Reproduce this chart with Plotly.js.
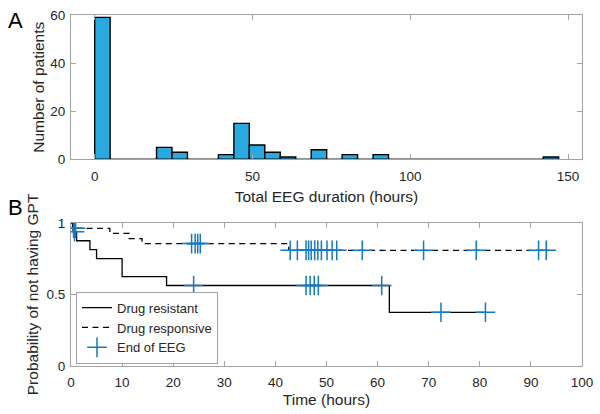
<!DOCTYPE html>
<html>
<head>
<meta charset="utf-8">
<script src="https://cdn.plot.ly/plotly-3.0.1.min.js"></script>
<style>
  html, body { margin: 0; padding: 0; background: #ffffff; }
  #chart { width: 600px; height: 414px; }
</style>
</head>
<body>
<div id="chart"></div>
<script>
// ---------- Panel A: histogram of total EEG duration ----------
const binStart = 0;          // hours
const binWidth = 4.9;        // hours
const patientCounts = [59, 0, 0, 0, 5, 3, 0, 0, 2, 15, 6, 3, 1, 0, 4, 0, 2, 0, 2, 0,
                       0, 0, 0, 0, 0, 0, 0, 0, 0, 1];
const histTicks = [0, 50, 100, 150];
const countTicks = [0, 20, 40, 60];

// ---------- Panel B: Kaplan-Meier curves ----------
const resistantTime = [0, 0.4, 1.1, 3.7, 5.0, 10.0, 18.7, 62.3, 81.1];
const resistantSurv = [1, 0.9375, 0.875, 0.8125, 0.75, 0.625, 0.5625, 0.375, 0.375];
const responsiveTime = [0, 0.3, 7.6, 11.4, 13.9, 42.6, 93.0];
const responsiveSurv = [1, 0.962, 0.926, 0.89, 0.855, 0.808, 0.808];

const responsiveCensorTime = [0.5, 0.9, 23.6, 24.3, 24.8, 25.3, 42.9, 44.3, 46.0, 46.5, 47.0,
                              47.7, 48.3, 49.0, 50.1, 51.1, 52.0, 57.0, 69.0, 79.3, 91.5, 93.0];
const responsiveCensorSurv = [0.962, 0.962, 0.855, 0.855, 0.855, 0.855, 0.808, 0.808, 0.808,
                              0.808, 0.808, 0.808, 0.808, 0.808, 0.808, 0.808, 0.808, 0.808,
                              0.808, 0.808, 0.808, 0.808];
const resistantCensorTime = [0.7, 24.0, 46.0, 46.8, 47.6, 48.4, 60.8, 72.4, 81.1];
const resistantCensorSurv = [0.9375, 0.5625, 0.5625, 0.5625, 0.5625, 0.5625, 0.5625, 0.375, 0.375];
const timeTicks = [0, 10, 20, 30, 40, 50, 60, 70, 80, 90, 100];
const probTicks = [0, 0.5, 1];
const probTickText = ['0', '0.5', '1'];

// ---------- build traces ----------
const binCenters = patientCounts.map((_, i) => binStart + binWidth * (i + 0.5));
const binEnd = binStart + binWidth * patientCounts.length;

const FONT = 'Liberation Sans, Arial, Helvetica, sans-serif';
const TXT = '#262626';
const AXC = '#a3a3a3';
const BLUE = '#1179c6';

const traces = [
  {
    type: 'bar', x: binCenters, y: patientCounts, width: binWidth,
    xaxis: 'x', yaxis: 'y', showlegend: false, hoverinfo: 'x+y',
    marker: { color: '#2aa9df', line: { color: '#000000', width: 1.4 } }
  },
  {
    type: 'scatter', mode: 'lines', x: [binStart, binEnd], y: [0, 0],
    xaxis: 'x', yaxis: 'y', showlegend: false, hoverinfo: 'skip',
    line: { color: '#000000', width: 1.4 }
  },
  {
    type: 'scatter', mode: 'lines', name: 'Drug resistant',
    x: resistantTime, y: resistantSurv, xaxis: 'x2', yaxis: 'y2',
    line: { color: '#000000', width: 1.3, shape: 'hv' }
  },
  {
    type: 'scatter', mode: 'lines', name: 'Drug responsive',
    x: responsiveTime, y: responsiveSurv, xaxis: 'x2', yaxis: 'y2',
    line: { color: '#000000', width: 1.3, shape: 'hv', dash: '6px,4.5px' }
  },
  {
    type: 'scatter', mode: 'markers', name: 'End of EEG',
    x: responsiveCensorTime.concat(resistantCensorTime),
    y: responsiveCensorSurv.concat(resistantCensorSurv),
    xaxis: 'x2', yaxis: 'y2',
    marker: { symbol: 'cross-thin-open', size: 14, color: BLUE, line: { color: BLUE, width: 1.5 } }
  }
];

const axisBase = {
  showline: true, mirror: 'ticks', linecolor: AXC, linewidth: 1,
  ticks: 'inside', ticklen: 5, tickwidth: 1, tickcolor: AXC,
  showgrid: false, zeroline: false,
  tickfont: { family: FONT, size: 13.5, color: TXT },
  automargin: false
};

const layout = {
  width: 600, height: 414,
  margin: { l: 71, r: 18.3, t: 15, b: 48.3 },
  paper_bgcolor: '#ffffff', plot_bgcolor: '#ffffff',
  font: { family: FONT, color: TXT },
  showlegend: true,
  xaxis: Object.assign({}, axisBase, {
    domain: [0, 1], anchor: 'y', range: [-7.5, 154.4],
    tickvals: histTicks, ticklabelstandoff: 4,
    title: { text: 'Total EEG duration (hours)', font: { family: FONT, size: 15.5, color: TXT }, standoff: 8 }
  }),
  yaxis: Object.assign({}, axisBase, {
    domain: [0.5885, 1], anchor: 'x', range: [0, 60],
    tickvals: countTicks, ticklabelstandoff: 2,
    title: { text: 'Number of patients', font: { family: FONT, size: 15.5, color: TXT }, standoff: 1 }
  }),
  xaxis2: Object.assign({}, axisBase, {
    domain: [0, 1], anchor: 'y2', range: [0, 100],
    tickvals: timeTicks, ticklabelstandoff: 4,
    title: { text: 'Time (hours)', font: { family: FONT, size: 15.5, color: TXT }, standoff: 4 }
  }),
  yaxis2: Object.assign({}, axisBase, {
    domain: [0, 0.4078], anchor: 'x2', range: [0, 1],
    tickvals: probTicks, ticktext: probTickText, ticklabelstandoff: 2,
    title: { text: 'Probability of not having GPT', font: { family: FONT, size: 15.5, color: TXT }, standoff: 4 }
  }),
  legend: {
    x: 0.0098, y: 0.0068, xanchor: 'left', yanchor: 'bottom',
    bgcolor: '#ffffff', bordercolor: AXC, borderwidth: 1,
    font: { family: FONT, size: 13, color: TXT },
    tracegroupgap: 0, itemwidth: 30
  },
  annotations: [
    { text: 'A', xref: 'paper', yref: 'paper', x: -0.127, y: 0.985, xanchor: 'left', yanchor: 'middle',
      showarrow: false, font: { family: FONT, size: 22, color: '#000000' } },
    { text: 'B', xref: 'paper', yref: 'paper', x: -0.127, y: 0.4525, xanchor: 'left', yanchor: 'middle',
      showarrow: false, font: { family: FONT, size: 22, color: '#000000' } }
  ]
};

Plotly.newPlot('chart', traces, layout, { displayModeBar: false, staticPlot: true });
</script>
</body>
</html>
